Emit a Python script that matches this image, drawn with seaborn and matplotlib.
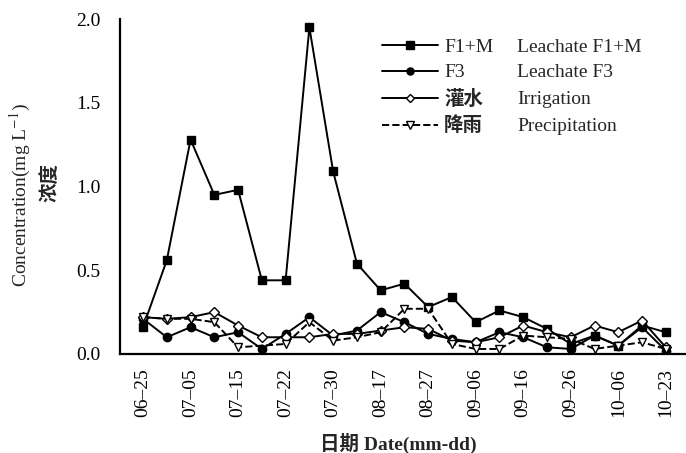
import numpy as np
import pandas as pd
import matplotlib
matplotlib.use('Agg')
import matplotlib.pyplot as plt
import seaborn as sns

# 数据
tick_labels = ['06–25', '07–05', '07–15', '07–22', '07–30', '08–17',
               '08–27', '09–06', '09–16', '09–26', '10–06', '10–23']
idx = np.arange(23)

f1m = [0.16, 0.56, 1.28, 0.95, 0.98, 0.44, 0.44, 1.95, 1.09, 0.54, 0.38, 0.42,
       0.28, 0.34, 0.19, 0.26, 0.22, 0.15, 0.06, 0.11, 0.05, 0.17, 0.13]
f3 = [0.21, 0.10, 0.16, 0.10, 0.13, 0.03, 0.12, 0.22, 0.11, 0.14, 0.25, 0.19,
      0.12, 0.09, 0.07, 0.13, 0.10, 0.04, 0.03, 0.11, 0.05, 0.16, 0.02]
irrigation = [0.22, 0.21, 0.22, 0.25, 0.17, 0.10, 0.10, 0.10, 0.12, 0.12, 0.14, 0.16,
              0.15, 0.08, 0.07, 0.10, 0.17, 0.13, 0.10, 0.17, 0.13, 0.20, 0.04]
precip = [0.22, 0.21, 0.21, 0.19, 0.04, np.nan, 0.06, 0.19, 0.08, 0.10, 0.13, 0.27,
          0.27, 0.06, 0.03, 0.03, 0.11, 0.10, 0.09, 0.03, 0.05, 0.07, 0.03]

cn_labels = ['F1+M', 'F3', '灌水', '降雨']
en_labels = ['Leachate F1+M', 'Leachate F3', 'Irrigation', 'Precipitation']

sns.set_style('white')
plt.rcParams['font.family'] = ['Liberation Serif', 'Noto Sans CJK SC']
plt.rcParams['mathtext.fontset'] = 'stix'
FS = 14

fig = plt.figure(figsize=(6.86, 4.53), dpi=100)
ax = fig.add_axes([120 / 686, 1 - 354 / 453, 566 / 686, 335 / 453])

styles = [
    dict(marker='s', markerfacecolor='black', linestyle='-'),
    dict(marker='o', markerfacecolor='black', linestyle='-'),
    dict(marker='D', markerfacecolor='white', linestyle='-', markersize=5),
    dict(marker='v', markerfacecolor='white', linestyle='--'),
]
series = [f1m, f3, irrigation, precip]

for vals, st, lab in zip(series, styles, cn_labels):
    df = pd.DataFrame({'x': idx, 'y': vals}).dropna()
    kw = dict(markersize=6, markeredgecolor='black', markeredgewidth=1.0)
    kw.update(st)
    sns.lineplot(data=df, x='x', y='y', ax=ax, color='black', linewidth=1.4,
                 label=lab, **kw)

ax.set_xlim(-0.97, 22.85)
ax.set_ylim(0, 2.0)
ax.set_xticks(idx[::2])
ax.set_xticklabels(tick_labels, rotation=90)
ax.set_yticks([0, 0.5, 1.0, 1.5, 2.0])
ax.set_yticklabels(['0.0', '0.5', '1.0', '1.5', '2.0'])
ax.tick_params(axis='both', direction='in', length=5, width=1.3, labelsize=FS, colors='black')
ax.tick_params(axis='y', pad=14)
ax.tick_params(axis='x', pad=10)
for s in ['top', 'right']:
    ax.spines[s].set_visible(False)
for s in ['left', 'bottom']:
    ax.spines[s].set_linewidth(1.6)
    ax.spines[s].set_color('black')
ax.set_xlabel('')
ax.set_ylabel('')

leg = ax.legend(loc='upper left', bbox_to_anchor=(382 / 686, 1 - 38 / 453),
                bbox_transform=fig.transFigure, frameon=False, fontsize=FS,
                handlelength=2.9, handletextpad=0.3, labelspacing=0.42,
                borderpad=0, borderaxespad=0, markerscale=0.85)
for t in leg.get_texts():
    if t.get_text() in ('灌水', '降雨'):
        t.set_fontweight('bold')

# 英文图例列与中文行对齐
fig.canvas.draw()
inv = fig.transFigure.inverted()
for t, lab in zip(leg.get_texts(), en_labels):
    bb = t.get_window_extent()
    yc = inv.transform((0, (bb.y0 + bb.y1) / 2))[1]
    fig.text(517 / 686, yc, lab, fontsize=FS, va='center', ha='left')

fig.text(20 / 686, 1 - 195 / 453, 'Concentration(mg L$^{-1}$)', rotation=90,
         fontsize=FS, va='center', ha='center')
fig.text(50 / 686, 1 - 182 / 453, '浓度', rotation=90, fontsize=FS,
         fontweight='bold', va='center', ha='center')
fig.text(398 / 686, 1 - 443 / 453, '日期 Date(mm-dd)', fontsize=FS,
         va='center', ha='center', fontweight='bold')

fig.savefig('out.png', dpi=100)
